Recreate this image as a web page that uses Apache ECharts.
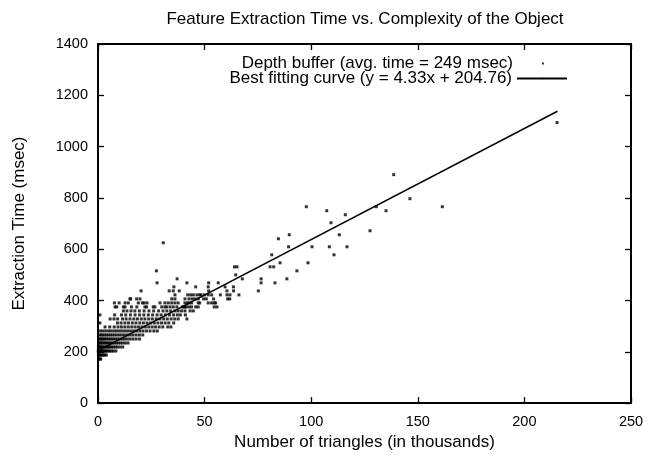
<!DOCTYPE html>
<html>
<head>
<meta charset="utf-8">
<script src="https://cdn.jsdelivr.net/npm/echarts@6/dist/echarts.min.js"></script>
<style>
html,body{margin:0;padding:0;background:#fff;}
#chart{width:648px;height:456px;}
</style>
</head>
<body>
<div id="chart"></div>
<script>
// ---- data ----
var titleText = 'Feature Extraction Time vs. Complexity of the Object';
var xAxisName = 'Number of triangles (in thousands)';
var yAxisName = 'Extraction Time (msec)';
var pointsName = 'Depth buffer (avg. time = 249 msec)';
var fitName = 'Best fitting curve (y = 4.33x + 204.76)';
var xTicks = [0, 50, 100, 150, 200, 250];
var yTicks = [0, 200, 400, 600, 800, 1000, 1200, 1400];
var fitSlope = 4.33;
var fitIntercept = 204.76;
var fitRange = [0, 215.5];

// measured points: [thousands of triangles, msec]
var depthPoints = [
  [0.4,171.9],[0.9,171.9],[1.3,171.9],
  [0.2,187.5],[0.6,187.5],[1.0,187.5],[1.5,187.5],[2.0,187.5],[2.6,187.5],[3.2,187.5],[3.9,187.5],
  [0.1,203.1],[0.5,203.1],[0.9,203.1],[1.3,203.1],[1.8,203.1],[2.2,203.1],[2.7,203.1],[3.1,203.1],[3.6,203.1],[4.2,203.1],[4.8,203.1],[5.5,203.1],[6.3,203.1],[7.2,203.1],[8.4,203.1],
  [0.2,218.75],[0.6,218.75],[1.0,218.75],[1.4,218.75],[1.8,218.75],[2.3,218.75],[2.8,218.75],[3.3,218.75],[3.9,218.75],[4.5,218.75],[5.1,218.75],[5.8,218.75],[6.5,218.75],[7.3,218.75],[8.2,218.75],[9.1,218.75],[10.3,218.75],[11.6,218.75],
  [0.3,234.4],[0.7,234.4],[1.2,234.4],[1.7,234.4],[2.2,234.4],[2.8,234.4],[3.4,234.4],[4.0,234.4],[4.7,234.4],[5.4,234.4],[6.1,234.4],[6.9,234.4],[7.7,234.4],[8.6,234.4],[9.5,234.4],[10.5,234.4],[11.6,234.4],[12.8,234.4],[14.1,234.4],
  [0.4,250],[0.9,250],[1.5,250],[2.1,250],[2.7,250],[3.4,250],[4.1,250],[4.9,250],[5.7,250],[6.5,250],[7.4,250],[8.3,250],[9.3,250],[10.3,250],[11.4,250],[12.5,250],[13.7,250],[15.0,250],[16.4,250],[17.9,250],[19.5,250],
  [0.8,265.6],[1.5,265.6],[2.3,265.6],[3.1,265.6],[4.0,265.6],[4.9,265.6],[5.8,265.6],[6.8,265.6],[7.8,265.6],[8.9,265.6],[10.0,265.6],[11.2,265.6],[12.4,265.6],[13.7,265.6],[15.0,265.6],[16.4,265.6],[17.9,265.6],[19.4,265.6],[21.0,265.6],
  [1.2,281.25],[2.4,281.25],[3.7,281.25],[5.0,281.25],[6.2,281.25],[7.5,281.25],[8.7,281.25],[10.0,281.25],[11.3,281.25],[12.6,281.25],[13.9,281.25],[15.3,281.25],[16.7,281.25],[18.1,281.25],[19.6,281.25],[21.1,281.25],[22.7,281.25],[24.4,281.25],[26.2,281.25],[27.8,281.25],
  [3.3,296.9],[5.5,296.9],[7.6,296.9],[9.4,296.9],[11.0,296.9],[12.6,296.9],[14.2,296.9],[15.8,296.9],[17.4,296.9],[19.0,296.9],[20.6,296.9],[22.2,296.9],[23.8,296.9],[25.4,296.9],[27.0,296.9],[28.7,296.9],[30.4,296.9],[32.7,296.9],[34.2,296.9],
  [0.9,312.5],[9.1,312.5],[10.8,312.5],[12.6,312.5],[14.3,312.5],[16.1,312.5],[17.8,312.5],[19.6,312.5],[21.3,312.5],[23.0,312.5],[24.7,312.5],[26.4,312.5],[28.1,312.5],[29.8,312.5],[31.5,312.5],[33.2,312.5],[35.5,312.5],
  [5.7,328.1],[7.5,328.1],[9.2,328.1],[11.5,328.1],[13.2,328.1],[15.0,328.1],[16.8,328.1],[18.5,328.1],[20.3,328.1],[22.0,328.1],[23.8,328.1],[25.5,328.1],[27.3,328.1],[29.0,328.1],[30.8,328.1],[32.5,328.1],[34.3,328.1],[36.0,328.1],[37.6,328.1],[41.7,328.1],
  [0.9,343.75],[7.8,343.75],[11.0,343.75],[13.0,343.75],[15.2,343.75],[17.4,343.75],[19.5,343.75],[21.5,343.75],[23.6,343.75],[25.6,343.75],[27.7,343.75],[29.6,343.75],[31.6,343.75],[33.5,343.75],[35.4,343.75],[37.2,343.75],[38.6,343.75],[41.0,343.75],
  [11.9,359.4],[13.6,359.4],[15.5,359.4],[17.3,359.4],[19.4,359.4],[21.6,359.4],[23.9,359.4],[26.1,359.4],[28.4,359.4],[30.5,359.4],[32.3,359.4],[34.1,359.4],[36.1,359.4],[37.6,359.4],[39.2,359.4],[40.8,359.4],[43.2,359.4],[44.7,359.4],
  [8.0,375],[8.8,375],[11.9,375],[12.7,375],[15.7,375],[18.2,375],[22.0,375],[22.8,375],[25.9,375],[26.7,375],[29.9,375],[31.4,375],[32.2,375],[33.8,375],[35.3,375],[37.0,375],[39.5,375],[40.2,375],[40.8,375],[41.4,375],[42.7,375],[43.9,375],[45.8,375],[47.0,375],[54.5,375],[55.8,375],
  [7.7,390.6],[9.9,390.6],[12.7,390.6],[14.2,390.6],[18.9,390.6],[20.8,390.6],[21.7,390.6],[23.0,390.6],[29.1,390.6],[31.4,390.6],[33.0,390.6],[34.6,390.6],[36.1,390.6],[37.6,390.6],[40.8,390.6],[42.0,390.6],[42.7,390.6],[43.9,390.6],[47.0,390.6],[47.7,390.6],[51.7,390.6],[53.3,390.6],[54.5,390.6],[55.2,390.6],
  [15.0,406.25],[15.3,406.25],[18.1,406.25],[19.7,406.25],[34.6,406.25],[36.1,406.25],[40.8,406.25],[42.7,406.25],[44.2,406.25],[45.5,406.25],[47.0,406.25],[49.5,406.25],[50.8,406.25],[54.2,406.25],[60.8,406.25],[61.8,406.25],
  [36.1,421.9],[42.1,421.9],[43.5,421.9],[44.7,421.9],[46.4,421.9],[47.7,421.9],[48.3,421.9],[49.9,421.9],[51.7,421.9],[53.3,421.9],[57.4,421.9],[60.5,421.9],[61.9,421.9],[66.1,421.9],
  [20.2,437.5],[33.4,437.5],[35.3,437.5],[38.1,437.5],[51.9,437.5],[60.5,437.5],[63.6,437.5],[75.2,437.5],
  [35.6,453.1],[45.8,453.1],[51.7,453.1],[59.6,453.1],[63.5,453.1],
  [27.7,468.75],[41.7,468.75],[51.9,468.75],[56.4,468.75],[76.5,468.75],[83.0,468.75],
  [37.1,484.4],[67.7,484.4],[76.5,484.4],[88.6,484.4],
  [64.6,500],
  [27.4,515.6],[93.3,515.6],
  [64.0,531.25],[65.2,531.25],[80.7,531.25],[82.4,531.25],
  [85.4,546.9],[98.5,546.9],
  [81.5,578.1],[110.7,578.1],
  [89.4,609.4],[100.4,609.4],[108.5,609.4],[116.8,609.4],
  [30.6,625],
  [84.6,640.6],
  [89.7,656.25],[113.2,656.25],
  [127.6,671.9],
  [109.3,703.1],
  [116.0,734.4],
  [107.3,750],[135.1,750],
  [97.7,765.6],[130.5,765.6],[161.5,765.6],
  [146.3,796.9],
  [138.7,890.6],
  [215.3,1093.75]
];

var fitPoints = fitRange.map(function (x) { return [x, fitSlope * x + fitIntercept]; });

var FONT = '"Liberation Sans", Arial, Helvetica, sans-serif';
var TEXT_SIZE = 17;
var TICK_SIZE = 14.5;
var axisLineStyle = { color: '#000', width: 2 };

function plainLabel(v) { return String(v); }

function mkX(pos, showLabel, name) {
  return {
    type: 'value', position: pos, min: xTicks[0], max: xTicks[xTicks.length - 1], interval: xTicks[1] - xTicks[0],
    name: name || '', nameLocation: 'middle', nameGap: 27,
    nameTextStyle: { fontFamily: FONT, fontSize: TEXT_SIZE, color: '#000' },
    axisLine: { show: true, onZero: false, lineStyle: axisLineStyle },
    axisTick: { show: true, inside: true, length: 6, lineStyle: { color: '#000', width: 1.3 } },
    axisLabel: { show: showLabel, fontFamily: FONT, fontSize: TICK_SIZE, color: '#000', margin: 11, formatter: plainLabel },
    splitLine: { show: false }
  };
}
function mkY(pos, showLabel, name) {
  return {
    type: 'value', position: pos, min: yTicks[0], max: yTicks[yTicks.length - 1], interval: yTicks[1] - yTicks[0],
    name: name || '', nameLocation: 'middle', nameGap: 70,
    nameTextStyle: { fontFamily: FONT, fontSize: TEXT_SIZE, color: '#000' },
    axisLine: { show: true, onZero: false, lineStyle: axisLineStyle },
    axisTick: { show: true, inside: true, length: 6, lineStyle: { color: '#000', width: 1.3 } },
    axisLabel: { show: showLabel, fontFamily: FONT, fontSize: TICK_SIZE, color: '#000', margin: 10, formatter: plainLabel },
    splitLine: { show: false }
  };
}

var legendBase = {
  orient: 'vertical', align: 'right',
  itemWidth: 50, itemHeight: 2, itemGap: 0,
  textStyle: { fontFamily: FONT, fontSize: TEXT_SIZE, color: '#000' }
};

var chart = echarts.init(document.getElementById('chart'), null, { renderer: 'canvas' });
chart.setOption({
  animation: false,
  backgroundColor: '#fff',
  title: {
    text: titleText, left: 360, top: 6, textAlign: 'center',
    textStyle: { fontFamily: FONT, fontSize: TEXT_SIZE, fontWeight: 'normal', color: '#000' }
  },
  grid: { left: 98, right: 17, top: 44, bottom: 51 },
  xAxis: [mkX('bottom', true, xAxisName), mkX('top', false)],
  yAxis: [mkY('left', true, yAxisName), mkY('right', false)],
  legend: [
    Object.assign({}, legendBase, { right: 99, top: 50, data: [{ name: pointsName, icon: 'path://M0,0h1v1h-1z' }] }),
    Object.assign({}, legendBase, { right: 75, top: 65, data: [{ name: fitName }] })
  ],
  series: [
    {
      name: pointsName, type: 'scatter', xAxisIndex: 0, yAxisIndex: 0,
      symbol: 'rect', symbolSize: 3,
      itemStyle: { color: '#000' },
      data: depthPoints
    },
    {
      name: fitName, type: 'line', xAxisIndex: 0, yAxisIndex: 0,
      showSymbol: false, symbol: 'none',
      lineStyle: { color: '#000', width: 1.5 },
      itemStyle: { color: '#000' },
      data: fitPoints
    }
  ]
});
</script>
</body>
</html>
